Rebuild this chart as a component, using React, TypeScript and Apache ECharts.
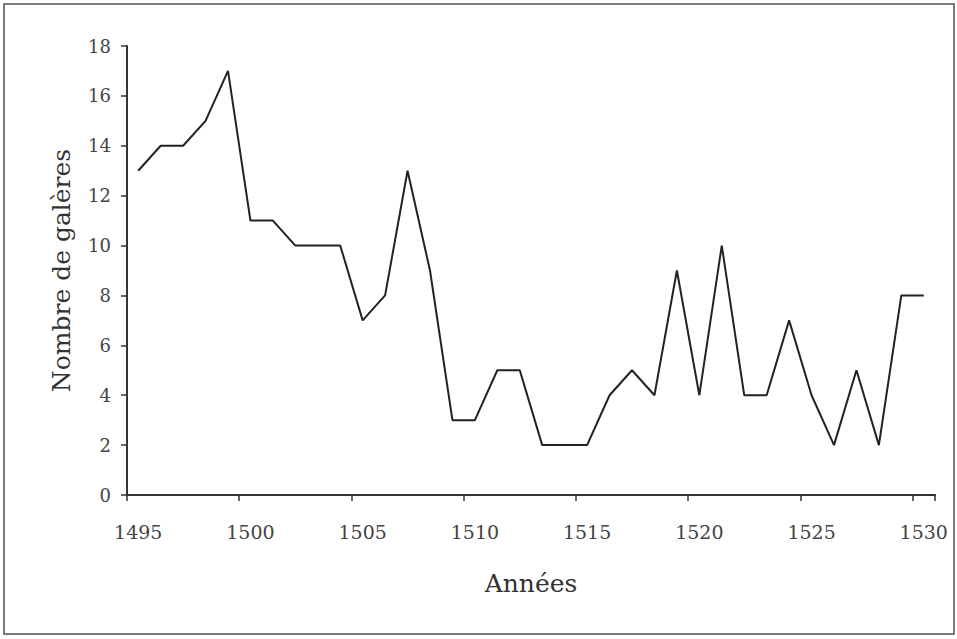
import React, { useEffect, useRef } from "react";
import * as echarts from "echarts";

const years: string[] = [
  "1495","1496","1497","1498","1499","1500","1501","1502","1503","1504",
  "1505","1506","1507","1508","1509","1510","1511","1512","1513","1514",
  "1515","1516","1517","1518","1519","1520","1521","1522","1523","1524",
  "1525","1526","1527","1528","1529","1530",
];
const galleys: number[] = [
  13, 14, 14, 15, 17, 11, 11, 10, 10, 10,
  7, 8, 13, 9, 3, 3, 5, 5, 2, 2,
  2, 4, 5, 4, 9, 4, 10, 4, 4, 7,
  4, 2, 5, 2, 8, 8,
];
const yTicks: number[] = [0, 2, 4, 6, 8, 10, 12, 14, 16, 18];

const FONT = "'DejaVu Serif', 'Liberation Serif', serif";

export default function App() {
  const ref = useRef<HTMLDivElement>(null);
  useEffect(() => {
    if (!ref.current) return;
    const chart = echarts.init(ref.current, undefined, { renderer: "svg" });
    chart.setOption({
      animation: false,
      backgroundColor: "#ffffff",
      graphic: [
        {
          type: "rect",
          shape: { x: 4, y: 4, width: 950, height: 630 },
          style: { fill: "none", stroke: "#7a7a7a", lineWidth: 2 },
          silent: true,
        },
      ],
      grid: { left: 127, right: 22, top: 46, bottom: 144 },
      xAxis: {
        type: "category",
        data: years,
        boundaryGap: true,
        name: "Années",
        nameLocation: "middle",
        nameGap: 76,
        nameTextStyle: { fontFamily: FONT, fontSize: 25, color: "#333" },
        axisLine: { lineStyle: { color: "#333", width: 2 } },
        axisTick: { show: true, alignWithLabel: false, length: 6, lineStyle: { color: "#333", width: 1.5 } },
        axisLabel: {
          fontFamily: FONT,
          fontSize: 19,
          color: "#444",
          margin: 27,
          interval: (i: number) => i % 5 === 0,
        },
        splitLine: { show: false },
      },
      yAxis: {
        type: "value",
        min: 0,
        max: 18,
        interval: 2,
        name: "Nombre de galères",
        nameLocation: "middle",
        nameGap: 53,
        nameRotate: 90,
        nameTextStyle: { fontFamily: FONT, fontSize: 25, color: "#333" },
        axisLine: { show: true, lineStyle: { color: "#333", width: 2 } },
        axisTick: { show: true, length: 6, lineStyle: { color: "#333", width: 1.5 } },
        axisLabel: {
          fontFamily: FONT,
          fontSize: 18,
          color: "#444",
          margin: 16,
          formatter: (v: number) => (yTicks.includes(v) ? String(v) : ""),
        },
        splitLine: { show: false },
      },
      series: [
        {
          type: "line",
          data: galleys,
          symbol: "none",
          lineStyle: { color: "#222", width: 2 },
        },
      ],
    });
    return () => chart.dispose();
  }, []);
  return <div ref={ref} style={{ width: 957, height: 639, position: "absolute", left: 0, top: 0 }} />;
}
